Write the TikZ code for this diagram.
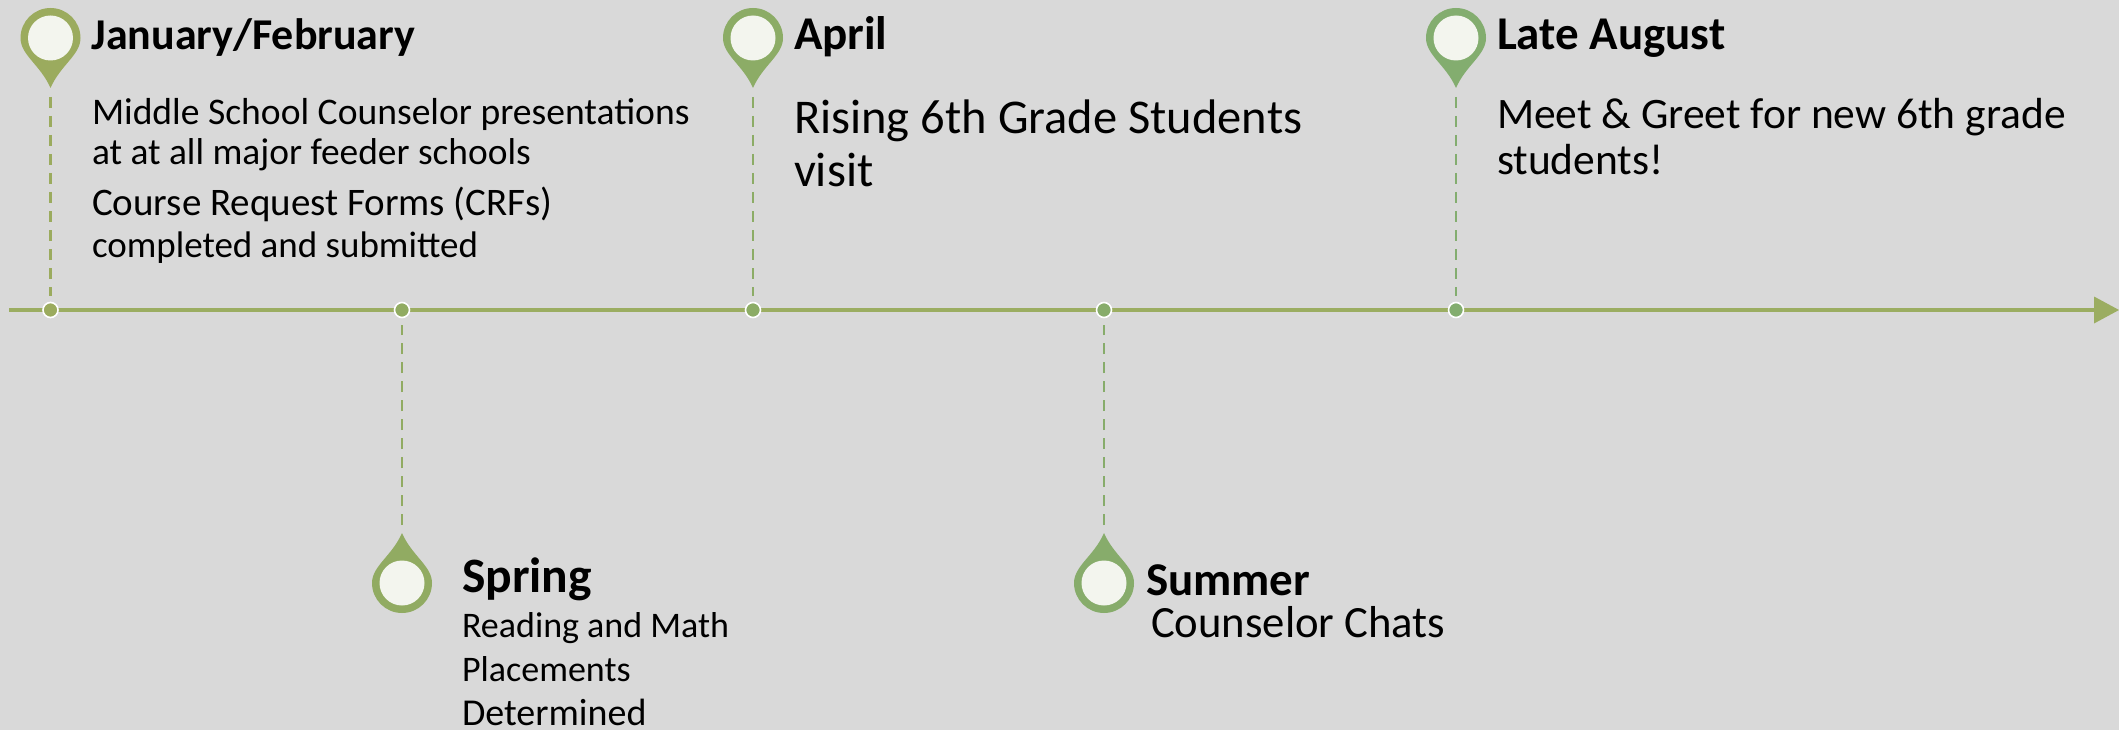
\documentclass[tikz,border=0pt]{standalone}
\usepackage{fontspec}
\setmainfont{Carlito}
\definecolor{bgc}{HTML}{D9D9D9}
\definecolor{axisc}{HTML}{9BAD61}
\definecolor{pa}{HTML}{9BAB5E}
\definecolor{pb}{HTML}{91AB62}
\definecolor{pc}{HTML}{8CAC66}
\definecolor{pd}{HTML}{87AC6B}
\definecolor{pe}{HTML}{83AD6F}
\definecolor{innerc}{HTML}{F3F5EE}
\tikzset{
  pics/pindrop/.style={code={
    \fill[#1] (-30,0) arc[start angle=180,end angle=360,radius=30]
      .. controls (30,17) and (10,27) .. (0,50)
      .. controls (-10,27) and (-30,17) .. (-30,0) -- cycle;
    \fill[innerc] (0,0) circle[radius=22.5];
    \coordinate (-tip) at (0,50);
  }},
  dotnode/.style={circle,draw=white,line width=1.6pt,minimum size=15pt,inner sep=0pt,outer sep=0pt},
  dashline/.style={line width=2.6pt,dash pattern=on 11pt off 8pt},
  lbl/.style={anchor=base west,inner sep=0pt,outer sep=0pt,text=black,align=left},
  head/.style={lbl,font=\bfseries\fontsize{47}{50}\selectfont},
  large/.style={lbl,font=\fontsize{48.5}{52}\selectfont},
  medium/.style={lbl,font=\fontsize{43.5}{46}\selectfont},
  spring/.style={lbl,font=\fontsize{36}{44}\selectfont},
}
\begin{document}
\begin{tikzpicture}[x=1pt,y=-1pt]
\useasboundingbox (0,0) rectangle (2119,730);
\fill[bgc] (0,0) rectangle (2119,730);
\coordinate (axisstart) at (9,310);
\fill[axisc] (2094,296.5) -- (2119,310) -- (2094,323.5) -- cycle;
\draw[axisc,line width=4pt] (axisstart) -- (2098,310);
\pic (A) at (50.5,38) {pindrop=pa};
\pic (B) [yscale=-1] at (402,583) {pindrop=pb};
\pic (C) at (753,38) {pindrop=pc};
\pic (D) [yscale=-1] at (1104,583) {pindrop=pd};
\pic (E) at (1456,38) {pindrop=pe};
\node[dotnode,fill=pa] (dA) at (50.5,310) {};
\node[dotnode,fill=pb] (dB) at (402,310) {};
\node[dotnode,fill=pc] (dC) at (753,310) {};
\node[dotnode,fill=pd] (dD) at (1104,310) {};
\node[dotnode,fill=pe] (dE) at (1456,310) {};
\draw[dashline,pa,shorten <=9pt,shorten >=7pt] (A-tip) -- (dA);
\draw[dashline,pb,shorten <=8pt,shorten >=7pt] (B-tip) -- (dB);
\draw[dashline,pc,shorten <=9pt,shorten >=7pt] (C-tip) -- (dC);
\draw[dashline,pd,shorten <=8pt,shorten >=7pt] (D-tip) -- (dD);
\draw[dashline,pe,shorten <=9pt,shorten >=7pt] (E-tip) -- (dE);
\node[head,font=\bfseries\fontsize{44}{50}\selectfont] (t1) at (91.5,50) {January/February};
\node[lbl,font=\fontsize{37.6}{44}\selectfont] (t1a) at (92,125) {Middle School Counselor presentations};
\node[lbl,font=\fontsize{37.4}{44}\selectfont] (t1b) at (92,165) {at at all major feeder schools};
\node[lbl,font=\fontsize{39}{44}\selectfont] (t1c) at (92,215) {Course Request Forms (CRFs)};
\node[lbl,font=\fontsize{37}{44}\selectfont] (t1d) at (92,257) {completed and submitted};
\node[head] (t2) at (794,50) {April};
\node[large] (t2a) at (794,134) {Rising 6th Grade Students};
\node[large] (t2b) at (794,186) {visit};
\node[head] (t3) at (1497,50) {Late August};
\node[medium] (t3a) at (1497,129) {Meet \& Greet for new 6th grade};
\node[medium] (t3b) at (1497,175) {students!};
\node[head,font=\bfseries\fontsize{49.5}{50}\selectfont] (t4) at (462,592) {Spring};
\node[spring] (t4a) at (462,637) {Reading and Math};
\node[spring] (t4b) at (462,681) {Placements};
\node[spring,font=\fontsize{38}{44}\selectfont] (t4c) at (462,725.5) {Determined};
\node[head,font=\bfseries\fontsize{47}{50}\selectfont] (t5) at (1146,595) {Summer};
\node[medium,font=\fontsize{44.7}{46}\selectfont] (t5a) at (1151,637) {Counselor Chats};
\end{tikzpicture}
\end{document}
